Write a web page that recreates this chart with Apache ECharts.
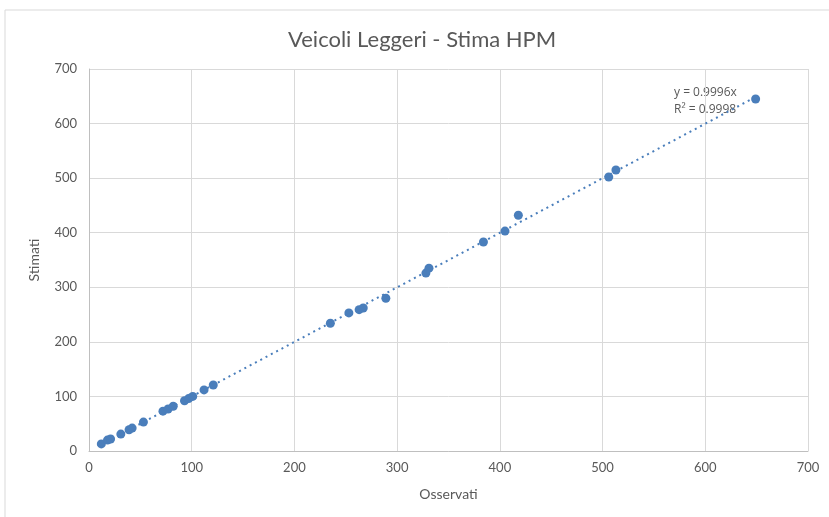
<!DOCTYPE html>
<html>
<head>
<meta charset="utf-8">
<title>Veicoli Leggeri - Stima HPM</title>
<script src="https://cdn.jsdelivr.net/npm/echarts@6/dist/echarts.min.js"></script>
<style>
  html, body { margin: 0; padding: 0; background: #fff; }
  #chart { width: 829px; height: 517px; }
</style>
</head>
<body>
<div id="chart"></div>
<script>
// observed vs estimated counts
const osservati = [12, 18, 21, 31, 39, 42, 53, 72, 77, 82, 93, 97, 101, 112, 121,
  235, 253, 263, 267, 289, 328, 331, 384, 405, 418, 506, 513, 649]
const stimati = [13, 20, 22, 31, 39, 42, 53, 73, 77, 82, 92, 96, 100, 112, 121,
  234, 253, 259, 262, 280, 326, 335, 383, 403, 432, 502, 515, 645]
const slope = 0.9996
const r2 = 0.9998
const axisTicks = [0, 100, 200, 300, 400, 500, 600, 700]

const points = osservati.map((x, i) => [x, stimati[i]])
const xMin = Math.min(...osservati)
const xMax = Math.max(...osservati)
const trend = [[xMin, slope * xMin], [xMax, slope * xMax]]

const chart = echarts.init(document.getElementById('chart'))
const textColor = '#595959'
const gridColor = '#d9d9d9'
const blue = '#4a7ebb'

const option = {
  backgroundColor: '#fff',
  animation: false,
  title: {
    text: 'Veicoli Leggeri - Stima HPM',
    left: 283,
    top: 24,
    textStyle: { fontFamily: 'Lato', fontSize: 22, fontWeight: 'normal', color: textColor }
  },
  graphic: [
    {
      type: 'polyline',
      shape: { points: [[5, 517], [5, 10], [829, 10]] },
      style: { stroke: gridColor, lineWidth: 1, fill: null }
    },
    {
      type: 'text',
      left: 674,
      top: 84,
      style: {
        text: 'y = ' + slope.toFixed(4) + 'x\nR\u00b2 = ' + r2.toFixed(4),
        fill: textColor,
        font: '12px "Open Sans"',
        lineHeight: 17
      }
    }
  ],
  grid: { left: 89, right: 21, top: 69, bottom: 66 },
  xAxis: {
    type: 'value',
    min: axisTicks[0],
    max: axisTicks[axisTicks.length - 1],
    interval: 100,
    name: 'Osservati',
    nameLocation: 'middle',
    nameGap: 36,
    nameTextStyle: { color: textColor, fontFamily: 'Lato', fontSize: 14 },
    axisLine: { show: true, lineStyle: { color: '#bfbfbf' } },
    axisTick: { show: false },
    axisLabel: { color: textColor, fontFamily: 'Lato', fontSize: 13, margin: 10 },
    splitLine: { show: true, lineStyle: { color: gridColor, width: 1 } }
  },
  yAxis: {
    type: 'value',
    min: axisTicks[0],
    max: axisTicks[axisTicks.length - 1],
    interval: 100,
    name: 'Stimati',
    nameLocation: 'middle',
    nameGap: 48,
    nameTextStyle: { color: textColor, fontFamily: 'Lato', fontSize: 14 },
    axisLine: { show: true, lineStyle: { color: '#bfbfbf' } },
    axisTick: { show: false },
    axisLabel: { color: textColor, fontFamily: 'Lato', fontSize: 13, margin: 12 },
    splitLine: { show: true, lineStyle: { color: gridColor, width: 1 } }
  },
  series: [
    {
      name: 'Tendenza',
      type: 'line',
      data: trend,
      symbol: 'none',
      lineStyle: { color: blue, width: 2, type: [2, 4] },
      z: 1
    },
    {
      name: 'Stimati',
      type: 'scatter',
      data: points,
      symbolSize: 9,
      itemStyle: { color: blue, opacity: 1 },
      z: 2
    }
  ]
}
chart.setOption(option)
</script>
</body>
</html>
